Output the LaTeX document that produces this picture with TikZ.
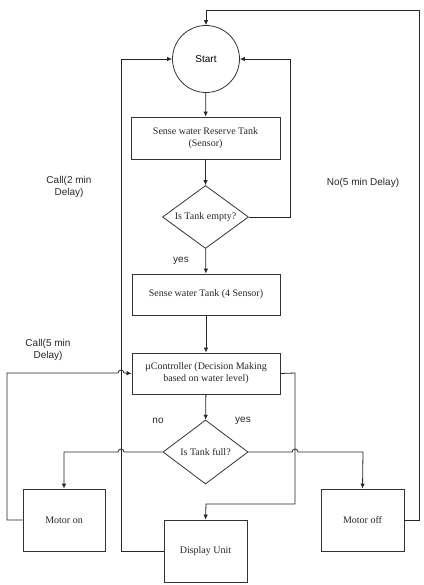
\documentclass[tikz,border=0pt]{standalone}
\usepackage{fontspec}
\setmainfont{Liberation Serif}
\setsansfont{Liberation Sans}
\usetikzlibrary{shapes.geometric,arrows.meta}
\begin{document}
\begin{tikzpicture}[x=1pt,y=-1pt,
  every node/.style={font=\fontsize{10}{12}\selectfont},
  box/.style={draw=black!80,line width=0.8pt,rectangle,inner sep=0pt,align=center,text=black!85},
  dec/.style={draw=black!80,line width=0.8pt,diamond,inner sep=0pt,aspect=1.37,text=black!85},
  lab/.style={font=\sffamily\fontsize{10}{12}\selectfont,align=center,text=black!85},
  con/.style={draw=black!85,line width=0.8pt},
  arr/.style={con,-{Latex[length=5pt,width=4.5pt]}}]
\useasboundingbox (0,0) rectangle (423,585);
\node[draw=black!80,line width=0.8pt,circle,minimum size=67pt,inner sep=0pt,font=\sffamily\fontsize{10}{12}\selectfont] (start) at (206,59) {Start};
\node[box,minimum width=149pt,minimum height=42pt] (srt) at (205.5,138) {Sense water Reserve Tank\\(Sensor)};
\node[dec,minimum width=86pt,minimum height=63pt] (d1) at (205.5,217) {Is Tank empty?};
\node[box,minimum width=148pt,minimum height=41pt] (swt) at (206,294.5) {Sense water Tank (4 Sensor)};
\node[box,minimum width=148pt,minimum height=41pt] (uc) at (206,373.5) {µController (Decision Making\\based on water level)};
\node[dec,minimum width=85pt,minimum height=64pt] (d2) at (205.5,452) {Is Tank full?};
\node[box,minimum width=82pt,minimum height=62pt] (mon) at (64,520) {Motor on};
\node[box,minimum width=83pt,minimum height=62pt] (moff) at (362.5,520) {Motor off};
\node[box,minimum width=83pt,minimum height=62pt] (disp) at (205.5,551) {Display Unit};

\node[lab] (l1) at (69,186.5) {Call(2 min\\Delay)};
\node[lab] (l2) at (363,183) {No(5 min Delay)};
\node[lab] (l3) at (48,349.5) {Call(5 min\\Delay)};
\node[lab] (lyes1) at (181,261) {yes};
\node[lab] (lno) at (158,421) {no};
\node[lab] (lyes2) at (243,421) {yes};

\coordinate (h1) at (121,373);
\coordinate (h2) at (121,452);
\coordinate (h3) at (295,452);

\draw[arr] (start) -- (srt);
\draw[arr] (srt) -- (d1);
\draw[arr] (d1) -- (swt);
\draw[arr] (swt) -- (uc);
\draw[arr] (uc) -- (d2);
\draw[arr] (d1.east) -- (290,217) -- (290,59) -- (start.east);
\draw[arr] (disp.west) -- (121,551) -- (121,59) -- (start.west);
\draw[arr] (moff.east) -- (419,520) -- (419,10) -- (206,10) -- (start.north);
\draw[arr] (mon.west) -- (7,520) -- (7,373) -- ([xshift=-3pt]h1) arc[start angle=180,end angle=0,radius=3pt] -- (uc.west);
\draw[arr] (d2.west) -- ([xshift=3pt]h2) arc[start angle=0,end angle=180,radius=3pt] -- (64,452) -- (mon.north);
\draw[arr] (d2.east) -- ([xshift=-3pt]h3) arc[start angle=180,end angle=0,radius=3pt] -- (363,452) -- (moff.north);
\draw[arr] (uc.east) -- (295,373) -- (295,504) -- (206,504) -- (disp.north);
\end{tikzpicture}
\end{document}
